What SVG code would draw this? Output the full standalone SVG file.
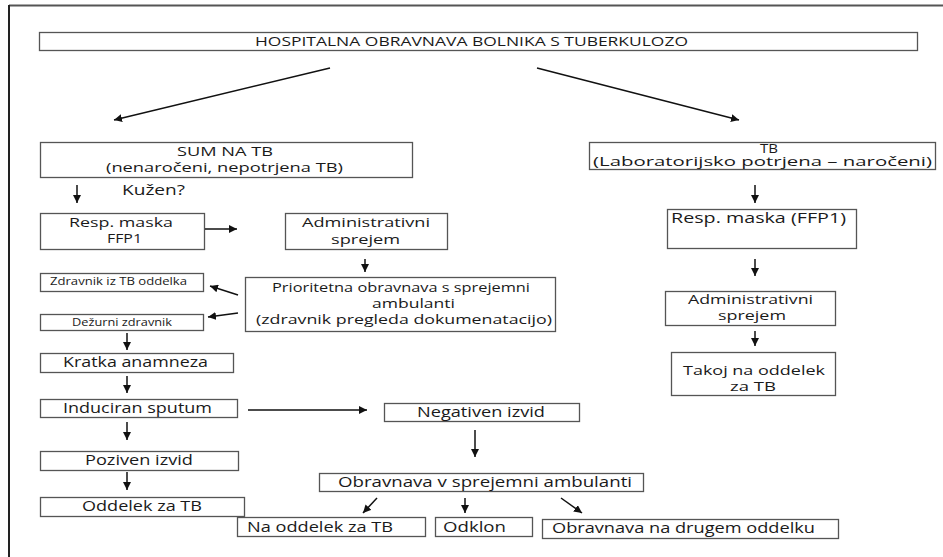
<svg xmlns="http://www.w3.org/2000/svg" width="943" height="557" viewBox="0 0 943 557">
<defs>
<marker id="ah" markerUnits="userSpaceOnUse" markerWidth="9" markerHeight="8" refX="8" refY="4" orient="auto">
<path d="M0,0 L8,4 L0,8 z" fill="#111"/>
</marker>
<style>
.box{fill:#fff;stroke:#555;stroke-width:1.3}
.t{font-family:"Open Sans","Liberation Sans",sans-serif;font-size:14px;fill:#1a1a1a}
.t2{font-family:"Open Sans","Liberation Sans",sans-serif;font-size:13px;fill:#1a1a1a}
.s{font-family:"Open Sans","Liberation Sans",sans-serif;font-size:10.5px;fill:#1a1a1a}
.ttl{font-family:"Open Sans","Liberation Sans",sans-serif;font-size:13.5px;fill:#1a1a1a}
.c{stroke:#111;stroke-width:1.5;fill:none;marker-end:url(#ah)}
</style>
</defs>
<rect x="0" y="0" width="943" height="557" fill="#fff"/>
<g id="frame">
<line x1="9" y1="5.5" x2="943" y2="5.5" stroke="#555" stroke-width="2"/>
<line x1="9" y1="5" x2="9" y2="557" stroke="#222" stroke-width="2"/>
</g>
<g id="title"><rect class="box" x="39.5" y="32.5" width="878" height="18"/><text class="ttl" x="255" y="46" textLength="433" lengthAdjust="spacingAndGlyphs">HOSPITALNA OBRAVNAVA BOLNIKA S TUBERKULOZO</text></g>
<g id="sum"><rect class="box" x="40.5" y="142.5" width="372" height="35"/><text class="t2" x="177" y="156" textLength="96" lengthAdjust="spacingAndGlyphs">SUM NA TB</text><text class="t2" x="106" y="172" textLength="237" lengthAdjust="spacingAndGlyphs">(nenaročeni, nepotrjena TB)</text></g>
<g id="tb"><rect class="box" x="589.5" y="142.5" width="346" height="27"/><text class="t2" x="760" y="153" textLength="18" lengthAdjust="spacingAndGlyphs">TB</text><text class="t2" x="593" y="166" textLength="339" lengthAdjust="spacingAndGlyphs">(Laboratorijsko potrjena – naročeni)</text></g>
<g id="kuzen"><text class="t" x="122" y="195" textLength="63" lengthAdjust="spacingAndGlyphs">Kužen?</text></g>
<g id="resp1"><rect class="box" x="40.5" y="213.5" width="164" height="36"/><text class="t2" x="69" y="227" textLength="104" lengthAdjust="spacingAndGlyphs">Resp. maska</text><text class="t2" x="107" y="243" textLength="35" lengthAdjust="spacingAndGlyphs">FFP1</text></g>
<g id="admin1"><rect class="box" x="285.5" y="213.5" width="162" height="36"/><text class="t2" x="302" y="227" textLength="128" lengthAdjust="spacingAndGlyphs">Administrativni</text><text class="t2" x="331" y="244" textLength="69" lengthAdjust="spacingAndGlyphs">sprejem</text></g>
<g id="zdravnik"><rect class="box" x="40.5" y="273.5" width="163" height="18"/><text class="s" x="50" y="285" textLength="137" lengthAdjust="spacingAndGlyphs">Zdravnik iz TB oddelka</text></g>
<g id="dezurni"><rect class="box" x="40.5" y="314.5" width="163" height="16"/><text class="s" x="72" y="326" textLength="100" lengthAdjust="spacingAndGlyphs">Dežurni zdravnik</text></g>
<g id="prioritetna"><rect class="box" x="245.5" y="277.5" width="310" height="54"/><text class="t2" x="272" y="292" textLength="258" lengthAdjust="spacingAndGlyphs">Prioritetna obravnava s sprejemni</text><text class="t2" x="372" y="308" textLength="83" lengthAdjust="spacingAndGlyphs">ambulanti</text><text class="t2" x="256" y="324" textLength="296" lengthAdjust="spacingAndGlyphs">(zdravnik pregleda dokumenatacijo)</text></g>
<g id="kratka"><rect class="box" x="40.5" y="353.5" width="193" height="19"/><text class="t" x="63" y="367" textLength="145" lengthAdjust="spacingAndGlyphs">Kratka anamneza</text></g>
<g id="induciran"><rect class="box" x="40.5" y="399.5" width="197" height="18"/><text class="t" x="63" y="413" textLength="149" lengthAdjust="spacingAndGlyphs">Induciran sputum</text></g>
<g id="negativen"><rect class="box" x="384.5" y="403.5" width="195" height="18"/><text class="t" x="417" y="417" textLength="128" lengthAdjust="spacingAndGlyphs">Negativen izvid</text></g>
<g id="poziven"><rect class="box" x="40.5" y="451.5" width="198" height="19"/><text class="t" x="85" y="465" textLength="108" lengthAdjust="spacingAndGlyphs">Poziven izvid</text></g>
<g id="oddelek"><rect class="box" x="40.5" y="497.5" width="204" height="19"/><text class="t" x="82" y="511" textLength="120" lengthAdjust="spacingAndGlyphs">Oddelek za TB</text></g>
<g id="obravnava"><rect class="box" x="319.5" y="473.5" width="324" height="18"/><text class="t" x="338" y="487" textLength="294" lengthAdjust="spacingAndGlyphs">Obravnava v sprejemni ambulanti</text></g>
<g id="naoddelek"><rect class="box" x="237.5" y="517.5" width="188" height="19"/><text class="t" x="247" y="532" textLength="146" lengthAdjust="spacingAndGlyphs">Na oddelek za TB</text></g>
<g id="odklon"><rect class="box" x="435.5" y="517.5" width="97" height="19"/><text class="t" x="443" y="532" textLength="63" lengthAdjust="spacingAndGlyphs">Odklon</text></g>
<g id="drugem"><rect class="box" x="542.5" y="519.5" width="296" height="19"/><text class="t" x="552" y="533" textLength="263" lengthAdjust="spacingAndGlyphs">Obravnava na drugem oddelku</text></g>
<g id="resp2"><rect class="box" x="667.5" y="209.5" width="189" height="39"/><text class="t" x="671" y="223" textLength="175" lengthAdjust="spacingAndGlyphs">Resp. maska (FFP1)</text></g>
<g id="admin2"><rect class="box" x="665.5" y="291.5" width="170" height="34"/><text class="t2" x="688" y="304" textLength="125" lengthAdjust="spacingAndGlyphs">Administrativni</text><text class="t2" x="718" y="320" textLength="68" lengthAdjust="spacingAndGlyphs">sprejem</text></g>
<g id="takoj"><rect class="box" x="671.5" y="352.5" width="164" height="43"/><text class="t2" x="683" y="375" textLength="142" lengthAdjust="spacingAndGlyphs">Takoj na oddelek</text><text class="t2" x="730" y="391" textLength="46" lengthAdjust="spacingAndGlyphs">za TB</text></g>
<g id="connectors">
<line class="c" x1="330" y1="68" x2="114" y2="120"/>
<line class="c" x1="537" y1="68" x2="739" y2="120"/>
<line class="c" x1="77" y1="185" x2="77" y2="203"/>
<line class="c" x1="205" y1="229" x2="237" y2="229"/>
<line class="c" x1="365" y1="259" x2="365" y2="272"/>
<line class="c" x1="238" y1="295" x2="210" y2="286"/>
<line class="c" x1="238" y1="313" x2="208" y2="317"/>
<line class="c" x1="127" y1="333" x2="127" y2="350"/>
<line class="c" x1="127" y1="376" x2="127" y2="393"/>
<line class="c" x1="248" y1="410" x2="367" y2="410"/>
<line class="c" x1="475" y1="430" x2="475" y2="457"/>
<line class="c" x1="127" y1="422" x2="127" y2="440"/>
<line class="c" x1="127" y1="472" x2="127" y2="490"/>
<line class="c" x1="377" y1="498" x2="363" y2="513"/>
<line class="c" x1="465" y1="498" x2="465" y2="513"/>
<line class="c" x1="561" y1="498" x2="582" y2="513"/>
<line class="c" x1="755" y1="185" x2="755" y2="203"/>
<line class="c" x1="755" y1="259" x2="755" y2="276"/>
<line class="c" x1="755" y1="331" x2="755" y2="346"/>
</g>
</svg>
